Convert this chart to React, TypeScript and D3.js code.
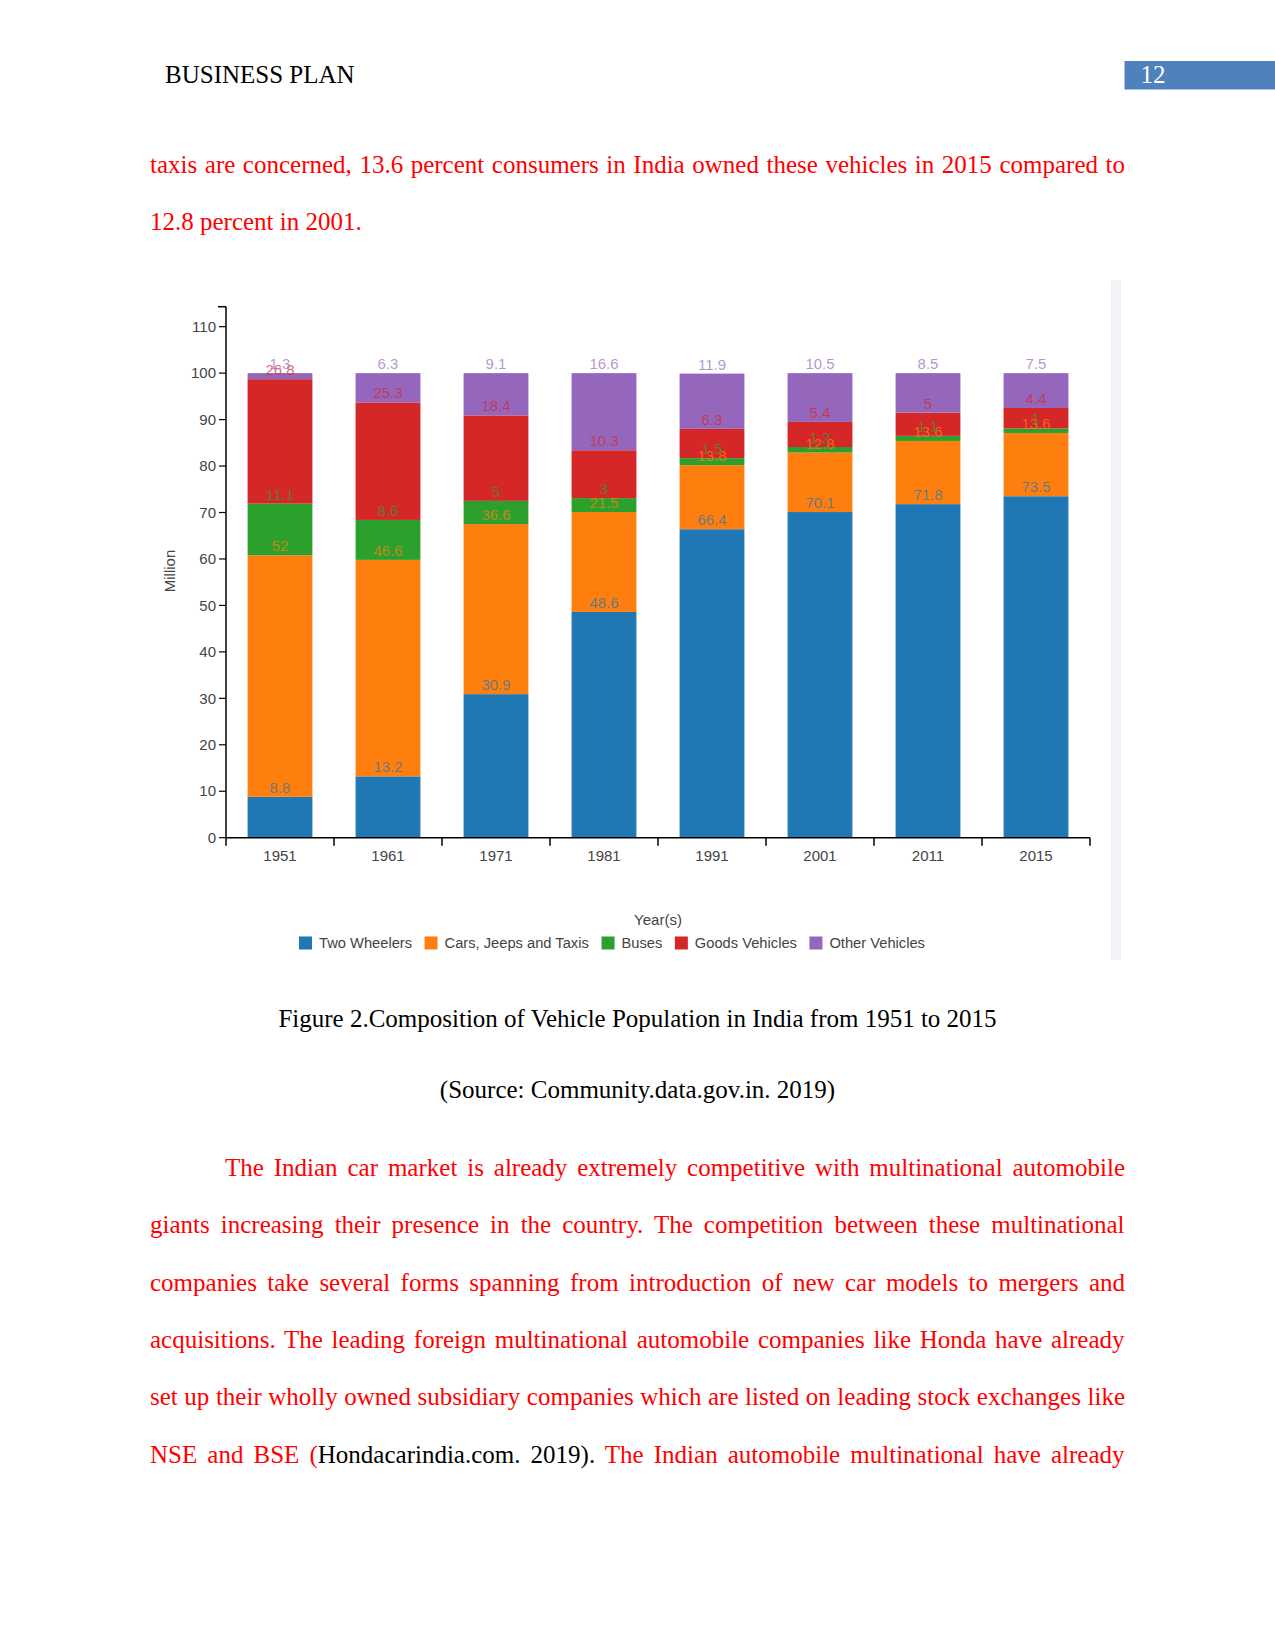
import React, { useMemo } from "react";
import * as d3 from "d3";

const years = ["1951", "1961", "1971", "1981", "1991", "2001", "2011", "2015"];
const twoWheelers = [8.8, 13.2, 30.9, 48.6, 66.4, 70.1, 71.8, 73.5];
const carsJeepsTaxis = [52, 46.6, 36.6, 21.5, 13.8, 12.8, 13.6, 13.6];
const buses = [11.1, 8.6, 5, 3, 1.5, 1.2, 1.1, 1];
const goodsVehicles = [26.8, 25.3, 18.4, 10.3, 6.3, 5.4, 5, 4.4];
const otherVehicles = [1.3, 6.3, 9.1, 16.6, 11.9, 10.5, 8.5, 7.5];
const seriesNames = ["Two Wheelers", "Cars, Jeeps and Taxis", "Buses", "Goods Vehicles", "Other Vehicles"];
const seriesColors = ["#1f77b4", "#ff7f0e", "#2ca02c", "#d62728", "#9467bd"];
const yTickValues = [0, 10, 20, 30, 40, 50, 60, 70, 80, 90, 100, 110];

const para1 = [
  "taxis are concerned, 13.6 percent consumers in India owned these vehicles in 2015 compared to",
];
const para1Last = "12.8 percent in 2001.";
const para2 = [
  "The Indian car market is already extremely competitive with multinational automobile",
  "giants increasing their presence in the country. The competition between these multinational",
  "companies take several forms spanning from introduction of new car models to mergers and",
  "acquisitions. The leading foreign multinational automobile companies like Honda have already",
  "set up their wholly owned subsidiary companies which are listed on leading stock exchanges like",
];
const lastLineParts = [
  { t: "NSE and BSE (", c: "#f00" },
  { t: "Hondacarindia.com. 2019).", c: "#000" },
  { t: " The Indian automobile multinational have already", c: "#f00" },
];

const SERIF = '"Liberation Serif", "Times New Roman", serif';
const SANS = '"Liberation Sans", Arial, sans-serif';
const FS = 15;
const LFS = 14.7;

let ctxCache: CanvasRenderingContext2D | null = null;
function measure(text: string, font: string) {
  if (!ctxCache) {
    const c = document.createElement("canvas");
    ctxCache = c.getContext("2d");
  }
  ctxCache!.font = font;
  return ctxCache!.measureText(text).width;
}

const LEFT = 150;
const RIGHT = 1125;
const RED = "#f00";

function JustLine({ text, y, x0 = LEFT, parts }: { text: string; y: number; x0?: number; parts?: { t: string; c: string }[] }) {
  const w = measure(text, `25px ${SERIF}`);
  const spaces = (text.match(/ /g) || []).length;
  const extra = spaces > 0 ? (RIGHT - x0 - w) / spaces : 0;
  return (
    <text x={x0} y={y} fontFamily={SERIF} fontSize={25} fill={RED} style={{ wordSpacing: `${extra}px` }} xmlSpace="preserve">
      {parts ? parts.map((p, i) => <tspan key={i} fill={p.c}>{p.t}</tspan>) : text}
    </text>
  );
}

export default function App() {
  const x0 = 226, x1 = 1090, yBase = 837.7, yTop = 306.7;
  const x = d3.scaleBand<string>().domain(years).range([x0, x1]).paddingInner(0.4).paddingOuter(0.2);
  const y = d3.scaleLinear().domain([0, 114.3]).range([yBase, yTop]);

  const table = years.map((yr, i) => ({
    year: yr,
    s0: twoWheelers[i],
    s1: carsJeepsTaxis[i],
    s2: buses[i],
    s3: goodsVehicles[i],
    s4: otherVehicles[i],
  }));
  const stack = d3.stack<any>().keys(["s0", "s1", "s2", "s3", "s4"])(table);

  const step = x.step();
  const gapHalf = (step - x.bandwidth()) / 2;
  const boundaries = years.map((yr) => (x(yr) as number) - gapHalf).concat([x1]);

  const legendFont = `${LFS}px ${SANS}`;
  const legendItems = useMemo(() => {
    let cx = 299;
    return seriesNames.map((n, i) => {
      const item = { name: n, color: seriesColors[i], x: cx };
      cx += 13 + 7 + measure(n, legendFont) + 12.5;
      return item;
    });
  }, []);

  const bodyStep = 57.3;

  return (
    <svg width={1275} height={1650} style={{ position: "absolute", left: 0, top: 0, background: "#fff" }}>
      <rect x={0} y={0} width={1275} height={1650} fill="#fff" />
      {/* Header */}
      <text x={165} y={83} fontFamily={SERIF} fontSize={25} fill="#000">BUSINESS PLAN</text>
      <rect x={1124.5} y={61} width={151} height={28.5} fill="#4f81bd" />
      <text x={1140.5} y={83} fontFamily={SERIF} fontSize={25} fill="#fff">12</text>

      {/* Paragraph 1 */}
      {para1.map((l, i) => <JustLine key={i} text={l} y={173 + i * bodyStep} />)}
      <text x={LEFT} y={230} fontFamily={SERIF} fontSize={25} fill={RED}>{para1Last}</text>

      {/* Chart image side bar */}
      <rect x={1111} y={280} width={10} height={680} fill="#f2f2f7" />

      {/* Bars */}
      {stack.map((s, si) => (
        <g key={si}>
          {s.map((d: any, i: number) => (
            <rect key={i} x={x(years[i])} y={y(d[1])} width={x.bandwidth()} height={y(d[0]) - y(d[1])} fill={seriesColors[si]} />
          ))}
        </g>
      ))}
      {/* Labels */}
      {stack.map((s, si) => (
        <g key={"l" + si}>
          {s.map((d: any, i: number) => (
            <text key={i} x={(x(years[i]) as number) + x.bandwidth() / 2} y={y(d[1]) - 4} textAnchor="middle"
              fontFamily={SANS} fontSize={FS} fill={seriesColors[si]} fillOpacity={0.7}>
              {String(d.data["s" + si])}
            </text>
          ))}
        </g>
      ))}

      {/* Y axis */}
      <line x1={x0} x2={x0} y1={yTop} y2={yBase} stroke="#000" strokeWidth={1.5} />
      <line x1={x0 - 8} x2={x0} y1={yTop} y2={yTop} stroke="#000" strokeWidth={1.5} />
      {yTickValues.map((t) => (
        <g key={t}>
          <line x1={x0 - 7} x2={x0} y1={y(t)} y2={y(t)} stroke="#000" strokeWidth={1.2} />
          <text x={x0 - 10} y={y(t)} dy="0.35em" textAnchor="end" fontFamily={SANS} fontSize={FS} fill="#444">{t}</text>
        </g>
      ))}
      <text transform={`translate(175,${571}) rotate(-90)`} textAnchor="middle" fontFamily={SANS} fontSize={FS} fill="#444">Million</text>

      {/* X axis */}
      <line x1={x0} x2={x1} y1={yBase} y2={yBase} stroke="#000" strokeWidth={1.5} />
      {boundaries.map((b, i) => (
        <line key={i} x1={b} x2={b} y1={yBase} y2={yBase + 8} stroke="#000" strokeWidth={1.5} />
      ))}
      {years.map((yr) => (
        <text key={yr} x={(x(yr) as number) + x.bandwidth() / 2} y={861} textAnchor="middle" fontFamily={SANS} fontSize={FS} fill="#444">{yr}</text>
      ))}
      <text x={(x0 + x1) / 2} y={925} textAnchor="middle" fontFamily={SANS} fontSize={FS} fill="#444">Year(s)</text>

      {/* Legend */}
      {legendItems.map((it) => (
        <g key={it.name}>
          <rect x={it.x} y={936.5} width={13} height={13} fill={it.color} />
          <text x={it.x + 20} y={948} fontFamily={SANS} fontSize={LFS} fill="#444">{it.name}</text>
        </g>
      ))}

      {/* Caption */}
      <text x={637.5} y={1027} textAnchor="middle" fontFamily={SERIF} fontSize={25} fill="#000">Figure 2.Composition of Vehicle Population in India from 1951 to 2015</text>
      <text x={637.5} y={1098} textAnchor="middle" fontFamily={SERIF} fontSize={25} fill="#000">(Source: Community.data.gov.in. 2019)</text>

      {/* Paragraph 2 */}
      {para2.map((l, i) => <JustLine key={i} text={l} y={1176 + i * bodyStep} x0={i === 0 ? 225 : LEFT} />)}
      <JustLine text={lastLineParts.map((p) => p.t).join("")} parts={lastLineParts} y={1176 + 5 * bodyStep} />
    </svg>
  );
}
